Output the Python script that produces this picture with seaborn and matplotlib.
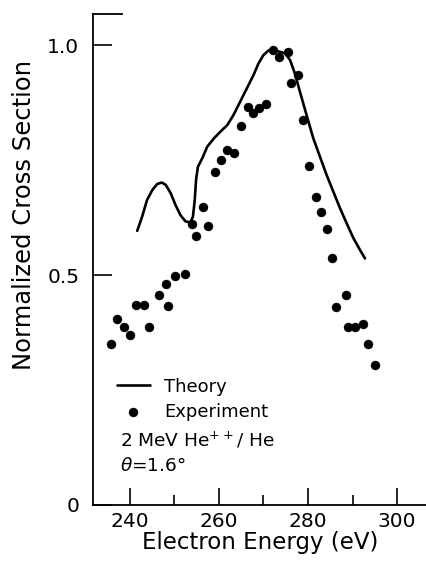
import numpy as np
import pandas as pd
import matplotlib
matplotlib.use("Agg")
import matplotlib.pyplot as plt
import seaborn as sns

exp_energy = [235.9, 237.1, 238.7, 240.0, 241.5, 243.2, 244.3, 246.5, 248.1, 248.7,
              250.2, 252.4, 254.0, 254.8, 256.4, 257.5, 259.2, 260.6, 261.9, 263.3,
              265.0, 266.6, 267.6, 269.0, 270.6, 272.2, 273.6, 275.6, 276.1, 277.8,
              278.9, 280.3, 281.8, 283.0, 284.2, 285.4, 286.3, 288.5, 288.9, 290.6,
              292.3, 293.5, 295.0]
exp_sigma = [0.351, 0.405, 0.387, 0.369, 0.435, 0.435, 0.386, 0.457, 0.480, 0.433,
             0.498, 0.503, 0.611, 0.584, 0.647, 0.607, 0.725, 0.749, 0.772, 0.765,
             0.823, 0.865, 0.853, 0.864, 0.871, 0.989, 0.973, 0.985, 0.917, 0.935,
             0.838, 0.737, 0.670, 0.637, 0.600, 0.538, 0.430, 0.457, 0.388, 0.388,
             0.393, 0.351, 0.304]

# Theory curve
th_energy = [241.7, 242.8, 243.9, 245.1, 246.2, 247.2, 248.1, 249.2, 250.3, 251.4,
             252.5, 253.6, 254.2, 254.6, 254.9, 255.3, 256.3, 257.4, 258.9, 260.4,
             261.9, 263.3, 264.8, 266.3, 267.8, 268.9, 270.0, 271.1, 272.3, 273.8,
             274.9, 276.0, 277.0, 278.3, 279.8, 281.2, 282.7, 284.2, 285.7, 287.2,
             288.7, 290.2, 291.7, 292.8]
th_sigma = [0.596, 0.627, 0.663, 0.685, 0.698, 0.701, 0.696, 0.678, 0.652, 0.630,
            0.617, 0.614, 0.627, 0.663, 0.707, 0.735, 0.754, 0.779, 0.797, 0.812,
            0.826, 0.848, 0.877, 0.906, 0.935, 0.960, 0.978, 0.988, 0.989, 0.985,
            0.982, 0.967, 0.940, 0.895, 0.844, 0.797, 0.757, 0.717, 0.681, 0.645,
            0.612, 0.580, 0.554, 0.536]

exp_df = pd.DataFrame({"energy": exp_energy, "sigma": exp_sigma})
th_df = pd.DataFrame({"energy": th_energy, "sigma": th_sigma})

sns.set_style("ticks")
plt.rcParams["font.family"] = ["DejaVu Sans"]
for key in ["text.color", "axes.labelcolor", "xtick.color", "ytick.color", "axes.edgecolor"]:
    plt.rcParams[key] = "black"

fig = plt.figure(figsize=(4.27, 5.69), dpi=100)
ax = fig.add_axes([0.218, 0.1125, 0.782, 0.8625])

sns.lineplot(data=th_df, x="energy", y="sigma", ax=ax, color="black",
             linewidth=1.9, label="Theory", sort=False)
sns.scatterplot(data=exp_df, x="energy", y="sigma", ax=ax, color="black",
                s=42, edgecolor="black", linewidth=0.3, label="Experiment", zorder=3)

ax.set_xlim(231.8, 306.7)
ax.set_ylim(0, 1.067)

ax.set_xticks([240, 260, 280, 300])
ax.set_xticks([250, 270, 290], minor=True)
ax.set_yticks([0, 0.5, 1.0])
ax.set_yticklabels(["0", "0.5", "1.0"])
ax.tick_params(axis="both", which="major", direction="in", length=12, width=1.2,
               labelsize=14.5, pad=5)
ax.tick_params(axis="x", which="minor", direction="in", length=7, width=1.2)
ax.tick_params(axis="y", which="major", length=14, pad=10)

ax.spines["right"].set_visible(False)
ax.spines["top"].set_bounds(231.8, 238.3)
for side in ["left", "bottom", "top"]:
    ax.spines[side].set_linewidth(1.3)

ax.set_xlabel("Electron Energy (eV)", fontsize=16.5)
ax.set_ylabel("Normalized Cross Section", fontsize=17.5)
ax.xaxis.set_label_coords(0.5, -0.054)
ax.yaxis.set_label_coords(-0.17, 0.59)

leg = ax.legend(loc="upper left", bbox_to_anchor=(0.05, 0.274), frameon=False,
                fontsize=13, handlelength=1.8, handletextpad=0.8,
                labelspacing=0.4, borderaxespad=0)
ax.text(0.08, 0.132, "2 MeV He$^{++}$/ He", transform=ax.transAxes, fontsize=13.3,
        va="center", ha="left")
ax.text(0.08, 0.080, r"$\theta$=1.6°", transform=ax.transAxes, fontsize=13.3,
        va="center", ha="left")

fig.savefig("out.png", dpi=100)
